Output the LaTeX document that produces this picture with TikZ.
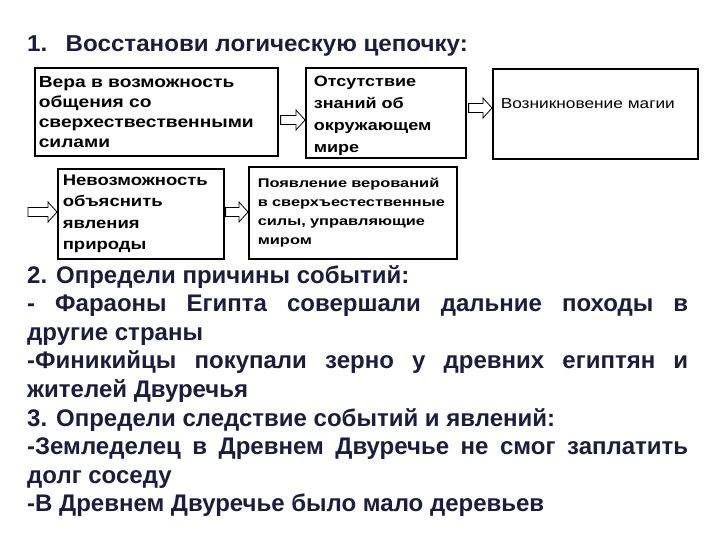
\documentclass[tikz,border=0pt]{standalone}
\usepackage{fontspec}
\setmainfont{Liberation Sans}
\newfontfamily\widefont[FakeStretch=1.2]{Liberation Sans}
\newfontfamily\widerfont[FakeStretch=1.3]{Liberation Sans}
\newfontfamily\titlefont[FakeStretch=1.05]{Liberation Sans}
\usetikzlibrary{calc}
\definecolor{navy}{RGB}{28,28,64}
\newcommand\blockarrow[2]{\draw[barrow] let \p1=(#1), \p2=(#2) in (\x1,\y1+4.5) -- (\x2-9,\y1+4.5) -- (\x2-9,\y1+10) -- (\x2,\y1) -- (\x2-9,\y1-10) -- (\x2-9,\y1-4.5) -- (\x1,\y1-4.5) -- cycle;}
\begin{document}
\begin{tikzpicture}[x=1pt,y=-1pt,
  box/.style={draw=black, line width=1.6pt, rectangle, inner sep=0pt, align=left, anchor=north west},
  barrow/.style={draw=black, line width=0.8pt, fill=white}]
\useasboundingbox[fill=white] (0,0) rectangle (720,540);

\node[anchor=base west, text=navy, inner sep=0pt, font=\titlefont\fontsize{23}{27}\selectfont\bfseries] (title) at (27,52) {1.\hspace{0.8em}Восстанови логическую цепочку:};

\node[box, minimum width=243, minimum height=88, text width=235, font=\widefont\fontsize{16}{20}\selectfont\bfseries] (b1) at (34,67)
  {Вера в возможность\\общения со\\сверхествественными\\силами};
\node[box, minimum width=160, minimum height=90, text width=144, font=\widefont\fontsize{15}{22}\selectfont\bfseries] (b2) at (305,67)
  {\rule{0pt}{17pt}Отсутствие\\знаний об\\окружающем\\мире};
\node[box, minimum width=205, minimum height=90, text width=189, text depth=20pt, font=\widefont\fontsize{14.4}{16}\selectfont] (b3) at (492,68)
  {Возникновение магии};
\node[box, minimum width=166, minimum height=90, text width=156, font=\widefont\fontsize{15.4}{21.5}\selectfont\bfseries] (b4) at (57,168)
  {Невозможность\\объяснить\\явления\\природы};
\node[box, minimum width=208, minimum height=92, text width=190, font=\widerfont\fontsize{12.6}{19}\selectfont\bfseries] (b5) at (248,166)
  {Появление верований\\в~сверхъестественные\\силы, управляющие\\миром};

\coordinate (y120) at (0,120);
\coordinate (y108) at (0,108);
\coordinate (y212) at (0,212);
\coordinate (a0) at (28,212);

\blockarrow{$(b1.east |- y120)+(2,0)$}{b2.west |- y120}
\blockarrow{$(b2.east |- y108)+(2,0)$}{b3.west |- y108}
\blockarrow{a0}{b4.west |- y212}
\blockarrow{$(b4.east |- y212)+(1,0)$}{b5.west |- y212}

\node[anchor=base west, text=navy, inner sep=0pt, font=\fontsize{24}{28.6}\selectfont\bfseries] (body) at (27,283) {\parbox[t]{661pt}{%
2. Определи причины событий:\\
\makebox[661pt][s]{- Фараоны Египта совершали дальние походы в}\\
другие страны\\
\makebox[661pt][s]{-Финикийцы покупали зерно у древних египтян и}\\
жителей Двуречья\\
3. Определи следствие событий и явлений:\\
\makebox[661pt][s]{-Земледелец в Древнем Двуречье не смог заплатить}\\
долг соседу\\
-В Древнем Двуречье было мало деревьев}};
\end{tikzpicture}
\end{document}
